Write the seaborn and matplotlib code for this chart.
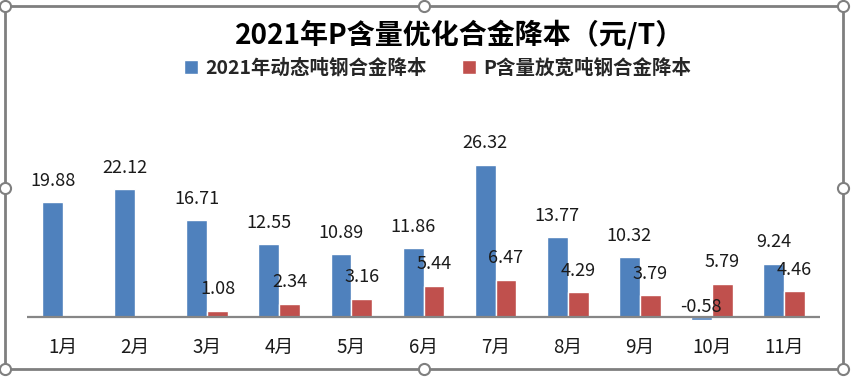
import numpy as np
import pandas as pd
import matplotlib
matplotlib.use("Agg")
import matplotlib.pyplot as plt
from matplotlib.patches import Rectangle, Patch
from matplotlib.lines import Line2D
import seaborn as sns

months = ["1月", "2月", "3月", "4月", "5月", "6月", "7月", "8月", "9月", "10月", "11月"]
series_a_name = "2021年动态吨钢合金降本"
series_b_name = "P含量放宽吨钢合金降本"
series_a = [19.88, 22.12, 16.71, 12.55, 10.89, 11.86, 26.32, 13.77, 10.32, -0.58, 9.24]
series_b = [np.nan, np.nan, 1.08, 2.34, 3.16, 5.44, 6.47, 4.29, 3.79, 5.79, 4.46]
title = "2021年P含量优化合金降本（元/T）"

sns.set_theme(style="white")
plt.rcParams["font.family"] = ["Noto Sans CJK SC", "DejaVu Sans"]

df = pd.DataFrame({
    "month": months * 2,
    "value": series_a + series_b,
    "series": [series_a_name] * len(months) + [series_b_name] * len(months),
})

W, H = 854, 380
fig = plt.figure(figsize=(W / 100, H / 100), dpi=100)
ax = fig.add_axes([27 / W, 51.4 / H, (820 - 27) / W, 185 / H])

colors = {series_a_name: "#4F81BD", series_b_name: "#C0504D"}
sns.barplot(data=df, x="month", y="value", hue="series", order=months,
            hue_order=[series_a_name, series_b_name], palette=colors,
            width=0.58, ax=ax, legend=False, saturation=1)

ax.set_xlim(-0.5, len(months) - 0.5)
ax.set_ylim(-2, 30)
for s in ax.spines.values():
    s.set_visible(False)
ax.axhline(0, color="#868686", lw=1.6, zorder=3)
ax.set_yticks([])
ax.set_xlabel("")
ax.set_ylabel("")
ax.tick_params(axis="x", length=0, pad=6, labelsize=13.5, labelcolor="#1a1a1a")

for cont in ax.containers:
    for bar in cont:
        v = bar.get_height()
        if v is None or np.isnan(v):
            continue
        x = bar.get_x() + bar.get_width() / 2
        y = max(v, 0)
        off = 9 if v >= 0 else 1
        ax.annotate(f"{v:.2f}", (x, y), xytext=(0, off), textcoords="offset points",
                    ha="center", va="bottom", fontsize=13, color="#1a1a1a", zorder=4)

fig.text(460 / W, 1 - 35 / H, title, ha="center", va="center",
         fontsize=20.2, fontweight="bold", color="#000000")

handles = [Patch(facecolor=colors[series_a_name]), Patch(facecolor=colors[series_b_name])]
fig.legend(handles, [series_a_name, series_b_name], loc="center",
           bbox_to_anchor=(438 / W, 1 - 68 / H), ncol=2, frameon=False,
           prop={"weight": "bold", "size": 14}, handlelength=0.7, handleheight=0.7,
           handletextpad=0.4, columnspacing=1.8)

# selection frame
fc = "#7f7f7f"
x0, x1, y0, y1 = 5 / W, 843 / W, 1 - 369 / H, 1 - 6 / H
fig.patches.append(Rectangle((x0, y0), x1 - x0, y1 - y0, transform=fig.transFigure,
                             fill=False, edgecolor=fc, lw=2, zorder=5))
xm, ym = (x0 + x1) / 2, (y0 + y1) / 2
pts = [(x0, y0), (xm, y0), (x1, y0), (x0, ym), (x1, ym), (x0, y1), (xm, y1), (x1, y1)]
for px, py in pts:
    fig.lines.append(Line2D([px], [py], transform=fig.transFigure, marker="o",
                            markersize=8, markerfacecolor="white",
                            markeredgecolor=fc, markeredgewidth=1.5, zorder=6))

fig.savefig("out.png", dpi=100)
